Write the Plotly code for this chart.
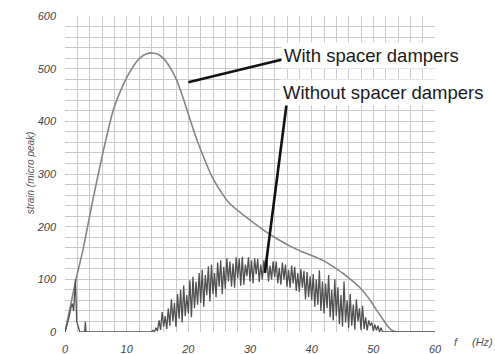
import plotly.graph_objects as go

# smooth curve: with spacer dampers
f_with = [0, 1.8, 2.9, 4.5, 6.1, 7.8, 8.9, 10.0, 11.0, 11.8, 12.8, 13.8, 15.0, 16.0, 17.0, 18.0,
          19.0, 20.0, 21.0, 22.0, 23.0, 24.0, 25.3, 26.7, 28.5, 30.5, 32.5, 34.5, 36.5, 38.5,
          40.5, 42.0, 43.5, 45.0, 46.5, 48.0, 49.5, 50.5, 51.5, 52.4, 53.2, 54.0, 60]
strain_with = [0, 101, 155, 250, 338, 420, 455, 483, 503, 516, 526, 530, 528, 519, 503, 481,
               450, 414, 378, 346, 317, 291, 266, 244, 226, 208, 191, 176, 163, 152,
               143, 135, 124, 112, 98, 82, 60, 42, 25, 10, 2, 0, 0]

# noisy curve: without spacer dampers (low-frequency part)
f_low = [0, 0.6, 1.0, 1.2, 1.4, 1.7, 1.9, 2.2, 2.4, 3.2, 3.3, 3.4, 13.5]
strain_low = [0, 25, 48, 54, 40, 100, 20, 5, 0, 0, 20, 0, 0]

# band 13.75 .. 52 Hz, sampled every 0.25 Hz
band_start = 13.75
band_step = 0.25
strain_band = [
    0,
    0, 3, 0, 8,
    2, 22, 4, 38,
    10, 30, 6, 45,
    12, 62, 20, 55,
    10, 72, 25, 80,
    18, 88, 30, 70,
    35, 98, 28, 105,
    45, 96, 52, 112,
    55, 118, 48, 108,
    70, 125, 58, 128,
    72, 112, 66, 132,
    86, 136, 72, 124,
    82, 140, 96, 134,
    86, 130, 84, 142,
    102, 140, 88, 143,
    90, 128, 106, 142,
    96, 136, 92, 140,
    110, 139, 95, 128,
    100, 136, 112, 138,
    96, 126, 100, 134,
    104, 134, 92, 122,
    90, 132, 100, 128,
    86, 118, 84, 126,
    92, 124, 78, 112,
    76, 120, 84, 116,
    62, 114, 66, 106,
    60, 110, 48, 100,
    52, 117, 40, 96,
    35, 92, 45, 108,
    28, 80, 22, 100,
    30, 85, 15, 70,
    10, 96, 18, 60,
    8, 72, 12, 52,
    5, 62, 20, 45,
    4, 50, 6, 28,
    3, 22, 12, 18,
    2, 14, 3, 12,
    0, 8, 0, 0,
    0,
]
f_band = [band_start + band_step * i for i in range(len(strain_band))]
f_tail = [60]
strain_tail = [0]

f_without = f_low + f_band + f_tail
strain_without = strain_low + strain_band + strain_tail

x_ticks = [0, 10, 20, 30, 40, 50, 60]
y_ticks = [0, 100, 200, 300, 400, 500, 600]

fig = go.Figure()
fig.add_trace(go.Scatter(x=f_with, y=strain_with, mode="lines",
                         line=dict(color="#858585", width=1.6, shape="spline", smoothing=0.5)))
fig.add_trace(go.Scatter(x=f_without, y=strain_without, mode="lines",
                         line=dict(color="#505050", width=1.3)))

# leader lines
fig.add_shape(type="line", x0=20.0, y0=474, x1=35.4, y1=518, line=dict(color="#111", width=2.6))
fig.add_shape(type="line", x0=36.0, y0=439, x1=32.4, y1=112, line=dict(color="#111", width=2.6))

lbl_font = dict(family="Liberation Sans, Arial", size=18.5, color="#1a1a1a")
fig.add_annotation(x=35.0, y=525, text="With spacer dampers", showarrow=False, xanchor="left",
                   font=lbl_font, bgcolor="white", borderpad=2)
fig.add_annotation(x=34.8, y=454, text="Without spacer dampers", showarrow=False, xanchor="left",
                   font=lbl_font, bgcolor="white", borderpad=2)

small = dict(family="Liberation Sans, Arial", size=10, color="#555", style="italic")
fig.add_annotation(xref="paper", yref="paper", x=-0.115, y=0.505, text="strain (micro peak)",
                   textangle=-90, showarrow=False, font=small)
fig.add_annotation(xref="paper", yref="paper", x=1.068, y=-0.057, text="f", showarrow=False,
                   font=dict(small, size=11))
fig.add_annotation(xref="paper", yref="paper", x=1.162, y=-0.057, text="(Hz)", showarrow=False,
                   xanchor="right", font=dict(small, size=11))

grid = "#cacaca"
fig.update_xaxes(range=[0, 60], tickvals=x_ticks, showgrid=True, gridcolor=grid, gridwidth=1,
                 minor=dict(dtick=2, showgrid=True, gridcolor=grid, gridwidth=1),
                 zeroline=False, showline=False, ticklabelstandoff=9, automargin=False,
                 tickfont=dict(family="Liberation Sans, Arial", size=11, color="#444", style="italic"))
fig.update_yaxes(range=[0, 600], tickvals=y_ticks, showgrid=True, gridcolor=grid, gridwidth=1,
                 minor=dict(dtick=20, showgrid=True, gridcolor=grid, gridwidth=1),
                 zeroline=False, showline=False, ticklabelstandoff=8, automargin=False,
                 tickfont=dict(family="Liberation Sans, Arial", size=11, color="#444", style="italic"))

fig.update_layout(width=495, height=354, margin=dict(l=65, r=60, t=16, b=22),
                  plot_bgcolor="white", paper_bgcolor="white", showlegend=False)
# drop the browser's default 8px body margin so the figure sits at the window corner
fig.write_html("out.html", config={"displayModeBar": False},
               post_script="document.body.style.margin='0';")
